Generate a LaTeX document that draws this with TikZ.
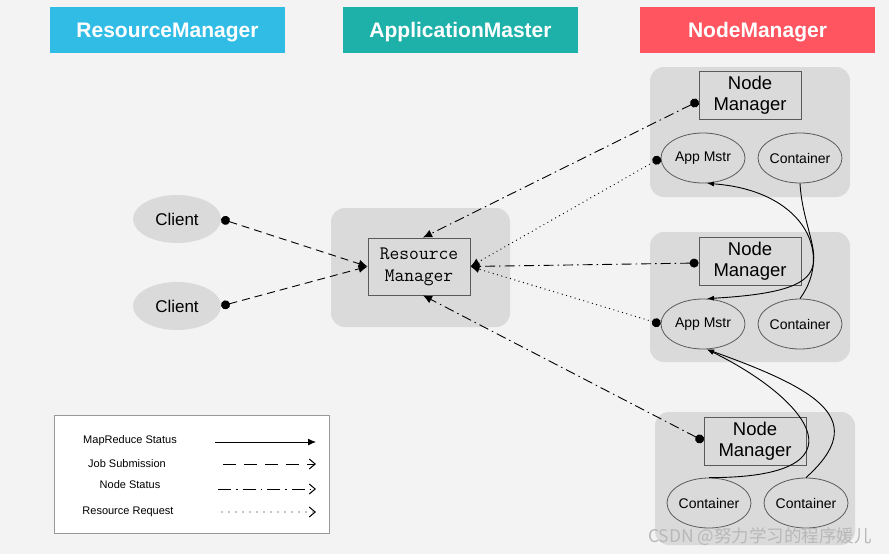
\documentclass[tikz,border=0pt]{standalone}
\usepackage{fontspec}
\setmainfont{Liberation Sans}
\newfontfamily\cjkfont{Noto Sans CJK SC}
\usetikzlibrary{arrows.meta,calc,shapes.geometric}
\definecolor{bgc}{HTML}{F3F3F3}
\definecolor{grp}{HTML}{DADADA}
\definecolor{rmblue}{HTML}{31BCE6}
\definecolor{amteal}{HTML}{1EB1A9}
\definecolor{nmred}{HTML}{FF5561}
\definecolor{edge}{HTML}{5A5A5A}
\tikzset{
  hdr/.style={rectangle, minimum width=235pt, minimum height=46pt, text=white, font=\fontsize{21}{24}\selectfont\bfseries, inner sep=0pt, text depth=0pt},
  grpbox/.style={fill=grp, rounded corners=14pt},
  nmbox/.style={rectangle, draw=edge, fill=grp, line width=0.8pt, minimum width=102pt, minimum height=48pt, align=center, inner sep=0pt, font=\fontsize{18.5}{21}\selectfont},
  ellbox/.style={ellipse, draw=edge, fill=grp, line width=0.8pt, minimum width=84pt, minimum height=50pt, inner sep=0pt},
  cli/.style={ellipse, fill=grp, minimum width=88pt, minimum height=48pt, inner sep=0pt},
  small/.style={font=\fontsize{14}{16}\selectfont},
  lw/.style={line width=0.9pt},
  jobsub/.style={lw, dash pattern=on 8pt off 5pt},
  nodestat/.style={lw, dash pattern=on 10pt off 4pt on 1.5pt off 4pt},
  resreq/.style={line width=1.3pt, line cap=round, dash pattern=on 0pt off 4.5pt},
  dotarr/.style={{Circle[length=9pt]}-{Latex[length=9pt,width=8pt]}},
  mrarr/.style={lw, -{Latex[length=7pt,width=5pt]}},
  legtext/.style={font=\fontsize{11}{13}\selectfont},
  legarr/.style={-{Straight Barb[length=6pt,width=10pt,line width=1pt]}},
  legjob/.style={lw, dash pattern=on 13pt off 8pt},
  legnode/.style={lw, dash pattern=on 13pt off 5pt on 1.5pt off 5pt},
  legres/.style={line width=1.3pt, line cap=round, dash pattern=on 0pt off 7pt},
}
\begin{document}
\begin{tikzpicture}[x=1pt,y=-1pt]
\fill[bgc] (0,0) rectangle (889,554);
\useasboundingbox (0,0) rectangle (889,554);

% headers
\node[hdr, fill=rmblue] (hrm) at (167.5,30) {ResourceManager};
\node[hdr, fill=amteal] (ham) at (460.5,30) {ApplicationMaster};
\node[hdr, fill=nmred] (hnm) at (757.5,30) {NodeManager};

% group backgrounds
\fill[grpbox] (331,208) rectangle (510,327);
\fill[grpbox] (650,67) rectangle (850,197);
\fill[grpbox] (650,232) rectangle (850,362);
\fill[grpbox] (655,412) rectangle (855,545);

% clients
\node[cli] (cl1) at (177,219) {};
\node[font=\fontsize{17}{19}\selectfont] at (cl1) {Client};
\node[cli] (cl2) at (177,306) {};
\node[font=\fontsize{17}{19}\selectfont] at (cl2) {Client};

% resource manager
\node[rectangle, draw=edge, fill=grp, line width=0.8pt, minimum width=102pt, minimum height=57pt, align=center, inner sep=0pt, font=\ttfamily\fontsize{19}{22}\selectfont] (rm) at (419,266.5) {Resource\\Manager};

% node managers
\node[nmbox] (nm1) at (750,95) {Node\\Manager};
\node[ellbox] (am1) at (703,158) {};
\node[small] at (am1) {App Mstr};
\node[ellbox] (c1) at (800,158) {};
\node[small] at (c1) {Container};

\node[nmbox] (nm2) at (750,261) {Node\\Manager};
\node[ellbox] (am2) at (703,324) {};
\node[small] at (am2) {App Mstr};
\node[ellbox] (c2) at (800,324) {};
\node[small] at (c2) {Container};

\node[nmbox] (nm3) at (755,441) {Node\\Manager};
\node[ellbox] (c3a) at (709,503) {};
\node[small] at (c3a) {Container};
\node[ellbox] (c3b) at (806,503) {};
\node[small] at (c3b) {Container};

% job submission
\draw[jobsub, dotarr] (cl1.east) -- (rm.west);
\draw[jobsub, dotarr] (cl2.east) -- (rm.west);

% node status
\draw[nodestat, dotarr] ([yshift=-6pt]nm1.west) -- ([xshift=4pt]rm.north);
\draw[nodestat, dotarr] ([yshift=-2pt]nm2.west) -- (rm.east);
\draw[nodestat, dotarr] (nm3.west) -- ([xshift=4pt]rm.south);

% resource request
\draw[resreq, dotarr] (am1.west) -- (rm.east);
\draw[resreq, dotarr] (am2.west) -- (rm.east);

% mapreduce status
\draw[mrarr] (c1.south) .. controls (804,255) and (860,290) .. ([xshift=4pt]am2.north);
\draw[mrarr] (c2.north) .. controls (835,250) and (800,190) .. ([xshift=4pt]am1.south);
\draw[mrarr] (c3a.north) .. controls (870,478) and (810,400) .. ([xshift=4pt]am2.south);
\draw[mrarr] (c3b.north) .. controls (870,420) and (820,390) .. ([xshift=4pt]am2.south);

% legend
\draw[draw=gray!80, fill=white, line width=0.8pt] (54,415) rectangle (329,533);
\node[legtext] (l1) at (130,441) {MapReduce Status};
\node[legtext] (l2) at (127,464) {Job Submission};
\node[legtext] (l3) at (130,485) {Node Status};
\node[legtext] (l4) at (128,512) {Resource Request};
\coordinate (a1) at (215,442); \coordinate (b1) at (316,442);
\coordinate (a2) at (223,464); \coordinate (b2) at (316,464);
\coordinate (a3) at (218,489); \coordinate (b3) at (316,489);
\coordinate (a4) at (222,512); \coordinate (b4) at (316,512);
\draw[lw, -{Latex[length=8pt,width=7pt]}] (a1) -- (b1);
\draw[legjob, legarr] (a2) -- (b2);
\draw[legnode, legarr] (a3) -- (b3);
\draw[legres, legarr] (a4) -- (b4);

% watermark
\node[anchor=east, text=black!28, font=\cjkfont\fontsize{17.5}{19}\selectfont, inner sep=0pt] (wm) at (872,537) {CSDN @努力学习的程序媛儿};
\end{tikzpicture}
\end{document}
